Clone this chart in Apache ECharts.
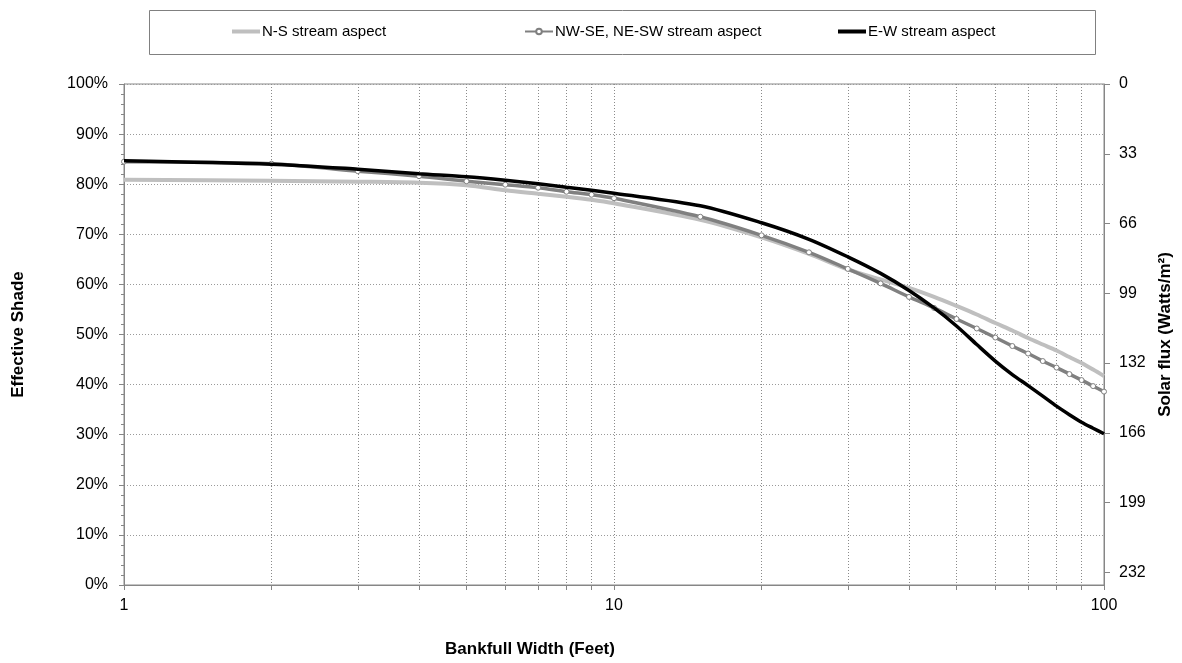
<!DOCTYPE html>
<html>
<head>
<meta charset="utf-8">
<script src="https://cdn.jsdelivr.net/npm/echarts@6/dist/echarts.min.js"></script>
<style>
html,body{margin:0;padding:0;background:#fff;}
#chart{width:1182px;height:663px;}
</style>
</head>
<body>
<div id="chart"></div>
<script>
// Bankfull width (feet) sample points
const bankfullWidth = [1,2,3,4,5,6,7,8,9,10,15,20,25,30,35,40,45,50,55,60,65,70,75,80,85,90,95,100];
// Effective shade (%)
const nsShade = [80.9,80.7,80.5,80.3,79.8,78.8,78.1,77.5,76.9,76.2,72.9,69.4,66.1,63.0,61.0,59.3,57.5,55.7,54.0,52.3,50.8,49.3,48.0,46.8,45.5,44.3,43.0,41.7];
const nwShade = [84.5,84.1,82.6,81.6,80.6,79.9,79.3,78.5,77.9,77.2,73.5,69.8,66.4,63.1,60.2,57.5,55.3,53.1,51.2,49.4,47.7,46.2,44.7,43.4,42.1,40.9,39.7,38.6];
const ewShade = [84.7,84.0,83.0,82.1,81.5,80.8,80.1,79.4,78.8,78.2,75.7,72.3,69.0,65.5,62.2,58.8,55.3,51.7,48.0,44.7,42.0,39.8,37.7,35.7,34.0,32.5,31.3,30.2];
// Axis ticks
const xTickValues = [1,2,3,4,5,6,7,8,9,10,20,30,40,50,60,70,80,90,100];
const xLabelValues = [1,10,100];
const fluxLabels = [0,33,66,99,132,166,199,232];
const fluxMax = 238;
const seriesNames = ['N-S stream aspect','NW-SE, NE-SW stream aspect','E-W stream aspect'];

const pairs = (ys) => bankfullWidth.map((x, i) => [x, ys[i]]);
const fluxStep = fluxLabels[fluxLabels.length - 1] / (fluxLabels.length - 1);

const FONT = 'Liberation Sans, Arial, sans-serif';
const chart = echarts.init(document.getElementById('chart'), null, {renderer: 'canvas'});
const legendBase = {
  orient: 'horizontal', itemWidth: 28, itemGap: 0,
  textStyle: {fontFamily: FONT, fontSize: 15, color: '#000', padding: [0, 0, 0, -3]}, padding: 0
};
chart.setOption({
  animation: false,
  backgroundColor: '#fff',
  graphic: [{
    type: 'rect', left: 147, top: 8,
    shape: {x: 0, y: 0, width: 946, height: 44},
    style: {fill: 'none', stroke: '#808080', lineWidth: 1}
  }],
  legend: [
    Object.assign({}, legendBase, {left: 232, top: 24, itemHeight: 4, data: [{name: seriesNames[0], icon: 'rect'}]}),
    Object.assign({}, legendBase, {left: 524, top: 24, itemHeight: 7, data: [{name: seriesNames[1]}]}),
    Object.assign({}, legendBase, {left: 838, top: 24, itemHeight: 4, data: [{name: seriesNames[2], icon: 'rect'}]})
  ],
  grid: {left: 124, right: 78, top: 84, bottom: 77, show: true, borderColor: '#888', borderWidth: 1, containLabel: false},
  xAxis: {
    type: 'log', logBase: 10, min: 1, max: 100,
    name: 'Bankfull Width (Feet)', nameLocation: 'middle', nameGap: 56,
    nameTextStyle: {fontFamily: FONT, fontSize: 17, fontWeight: 'bold', color: '#000', padding: [0, 168, 0, 0]},
    axisLine: {show: true, lineStyle: {color: '#868686', width: 1}},
    axisTick: {show: true, inside: false, length: 5, customValues: xTickValues, lineStyle: {color: '#868686'}},
    minorTick: {show: false},
    axisLabel: {customValues: xLabelValues, margin: 13, fontFamily: FONT, fontSize: 16, color: '#000', formatter: (v) => String(Math.round(v))},
    splitLine: {show: true, lineStyle: {color: '#8a8a8a', type: [1, 2], width: 1}}
  },
  yAxis: [{
    type: 'value', min: 0, max: 100, interval: 10, position: 'left',
    name: 'Effective Shade', nameLocation: 'middle', nameGap: 97,
    nameTextStyle: {fontFamily: FONT, fontSize: 17, fontWeight: 'bold', color: '#000'},
    axisLine: {show: true, lineStyle: {color: '#868686', width: 1}},
    axisTick: {show: true, inside: false, length: 5, lineStyle: {color: '#868686'}},
    minorTick: {show: true, splitNumber: 5, length: 3, lineStyle: {color: '#868686'}},
    axisLabel: {margin: 16, fontFamily: FONT, fontSize: 16, color: '#000', formatter: '{value}%'},
    splitLine: {show: true, lineStyle: {color: '#9a9a9a', type: [1, 2], width: 1}}
  }, {
    type: 'value', min: 0, max: fluxMax, interval: fluxStep, position: 'right', inverse: true,
    name: 'Solar flux (Watts/m²)', nameLocation: 'middle', nameGap: 53,
    nameTextStyle: {fontFamily: FONT, fontSize: 17, fontWeight: 'bold', color: '#000'},
    axisLine: {show: true, lineStyle: {color: '#868686', width: 1}},
    axisTick: {show: true, inside: false, length: 6, lineStyle: {color: '#868686'}},
    axisLabel: {margin: 15, fontFamily: FONT, fontSize: 16, color: '#000', showMaxLabel: false,
      formatter: (v) => {
        const i = Math.round(v / fluxStep);
        if (Math.abs(v - i * fluxStep) > 0.5 || i >= fluxLabels.length) return '';
        return String(fluxLabels[i]);
      }},
    splitLine: {show: false}
  }],
  series: [{
    name: seriesNames[0], type: 'line', data: pairs(nsShade), smooth: 0.3,
    symbol: 'none', lineStyle: {color: '#bfbfbf', width: 4}, itemStyle: {color: '#bfbfbf'}, z: 2
  }, {
    name: seriesNames[1], type: 'line', data: pairs(nwShade), smooth: 0.3,
    symbol: 'circle', symbolSize: 5, showSymbol: true,
    lineStyle: {color: '#808080', width: 3.5},
    itemStyle: {color: '#ffffff', borderColor: '#808080', borderWidth: 1}, z: 3
  }, {
    name: seriesNames[2], type: 'line', data: pairs(ewShade), smooth: 0.3,
    symbol: 'none', lineStyle: {color: '#000000', width: 3.5}, itemStyle: {color: '#000000'}, z: 4
  }]
});
</script>
</body>
</html>
